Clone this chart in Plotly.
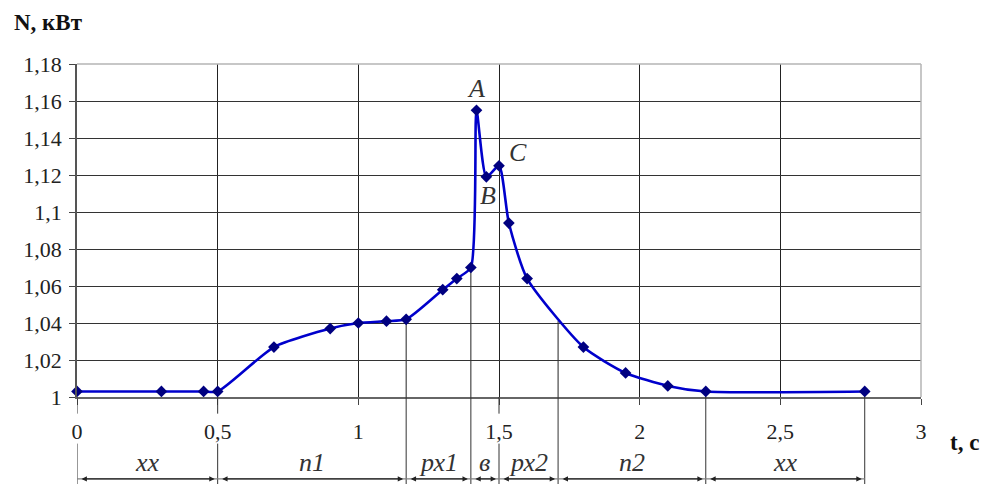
import plotly.graph_objects as go

# ---- data ----
t_vals = [0, 0.3, 0.45, 0.5, 0.7, 0.9, 1.0, 1.1, 1.17, 1.3, 1.35, 1.4, 1.42, 1.455,
          1.5, 1.535, 1.6, 1.8, 1.95, 2.1, 2.235, 2.8]
n_vals = [1.003, 1.003, 1.003, 1.003, 1.027, 1.037, 1.040, 1.041, 1.042, 1.058, 1.064,
          1.070, 1.155, 1.119, 1.125, 1.094, 1.064, 1.027, 1.013, 1.006, 1.003, 1.003]

point_labels = ["A", "B", "C"]
point_label_t = [1.42, 1.455, 1.5]
point_label_n = [1.155, 1.119, 1.125]

bounds = [0, 0.5, 1.17, 1.4, 1.5, 1.71, 2.235, 2.8]
bound_tops = [None, None, 1.042, 1.070, None, 1.041, 1.003, 1.003]
seg_labels = ["хх", "п1", "рх1", "в", "рх2", "п2", "хх"]

y_ticks = [1, 1.02, 1.04, 1.06, 1.08, 1.1, 1.12, 1.14, 1.16, 1.18]
y_tick_text = ["1", "1,02", "1,04", "1,06", "1,08", "1,1", "1,12", "1,14", "1,16", "1,18"]
x_ticks = [0, 0.5, 1, 1.5, 2, 2.5, 3]
x_tick_text = ["0", "0,5", "1", "1,5", "2", "2,5", "3"]

FONT = "Liberation Serif"
TICK_FONT = dict(family=FONT, size=22, color="#222222")

fig = go.Figure()
fig.add_trace(go.Scatter(
    x=t_vals, y=n_vals, mode="lines+markers",
    line=dict(color="#0000CC", width=2.6, shape="spline", smoothing=0.6),
    marker=dict(symbol="diamond", size=9, color="#000080"),
    cliponaxis=False, hoverinfo="skip", showlegend=False,
))

shapes = []
shapes.append(dict(type="line", xref="paper", yref="paper", x0=0, x1=1, y0=1, y1=1,
                   line=dict(color="#B5B5B5", width=1.5), layer="above"))
shapes.append(dict(type="line", xref="paper", yref="paper", x0=1, x1=1, y0=0, y1=1,
                   line=dict(color="#B5B5B5", width=1.5), layer="above"))

BOTTOM = -0.27
DIM_Y = -0.246
for b, top in zip(bounds, bound_tops):
    if top is None:
        shapes.append(dict(type="line", xref="x", yref="paper", x0=b, x1=b, y0=0, y1=-0.05,
                           line=dict(color="#333333", width=1)))
        shapes.append(dict(type="line", xref="x", yref="paper", x0=b, x1=b, y0=-0.14, y1=BOTTOM,
                           line=dict(color="#333333", width=1)))
    else:
        shapes.append(dict(type="line", xref="x", yref="y", x0=b, x1=b, y0=top, y1=1,
                           line=dict(color="#222222", width=1), layer="below"))
        shapes.append(dict(type="line", xref="x", yref="paper", x0=b, x1=b, y0=0, y1=BOTTOM,
                           line=dict(color="#333333", width=1)))
shapes.append(dict(type="line", xref="x", yref="paper", x0=bounds[0], x1=bounds[-1],
                   y0=DIM_Y, y1=DIM_Y, line=dict(color="#808080", width=1.2)))

annotations = []
for i, lab in enumerate(seg_labels):
    a, b = bounds[i], bounds[i + 1]
    annotations.append(dict(
        x=b, y=DIM_Y, ax=a, ay=DIM_Y, xref="x", yref="y domain", axref="x", ayref="y domain",
        text="", showarrow=True, arrowside="end+start", arrowhead=2, startarrowhead=2,
        arrowsize=0.9, startarrowsize=0.9, arrowwidth=1.2, arrowcolor="#222222",
        standoff=3, startstandoff=3,
    ))
    annotations.append(dict(
        x=(a + b) / 2, y=-0.196, xref="x", yref="paper", text="<i>" + lab + "</i>",
        showarrow=False,
        font=dict(family=FONT, size=26, color="#333333"),
        xanchor="center", yanchor="middle",
    ))

offsets = [(0, 22), (2, -19), (19, 13)]
for lab, tx, ny, (dx, dy) in zip(point_labels, point_label_t, point_label_n, offsets):
    annotations.append(dict(
        x=tx, y=ny, xref="x", yref="y", text="<i>" + lab + "</i>", showarrow=False,
        xshift=dx, yshift=dy,
        font=dict(family=FONT, size=26, color="#333333"),
        xanchor="center", yanchor="middle",
    ))

annotations.append(dict(x=-0.077, y=1.126, xref="paper", yref="paper", text="<b>N, кВт</b>",
                        showarrow=False, xanchor="left", yanchor="middle",
                        font=dict(family=FONT, size=23, color="#111111")))
annotations.append(dict(x=1.032, y=-0.138, xref="paper", yref="paper", text="<b>t, c</b>",
                        showarrow=False, xanchor="left", yanchor="middle",
                        font=dict(family=FONT, size=23, color="#111111")))

fig.update_layout(
    width=983, height=484,
    margin=dict(l=77, r=62, t=64, b=87),
    paper_bgcolor="white", plot_bgcolor="white",
    font=TICK_FONT,
    shapes=shapes, annotations=annotations,
)
fig.update_xaxes(range=[0, 3], tickmode="array", tickvals=x_ticks, ticktext=x_tick_text,
                 showgrid=True, gridcolor="#222222", gridwidth=1,
                 showline=True, linecolor="#666666", linewidth=1.5,
                 ticks="outside", ticklen=6, tickcolor="#444444",
                 zeroline=False, tickfont=TICK_FONT, ticklabelstandoff=8)
fig.update_yaxes(range=[1, 1.18], tickmode="array", tickvals=y_ticks, ticktext=y_tick_text,
                 showgrid=True, gridcolor="#333333", gridwidth=1,
                 showline=True, linecolor="#555555", linewidth=1.5,
                 ticks="outside", ticklen=6, tickcolor="#444444",
                 zeroline=False, tickfont=TICK_FONT, ticklabelstandoff=3)

fig.write_html("out.html", config={"displayModeBar": False},
               post_script="document.body.style.margin='0';document.body.style.overflow='hidden';")
